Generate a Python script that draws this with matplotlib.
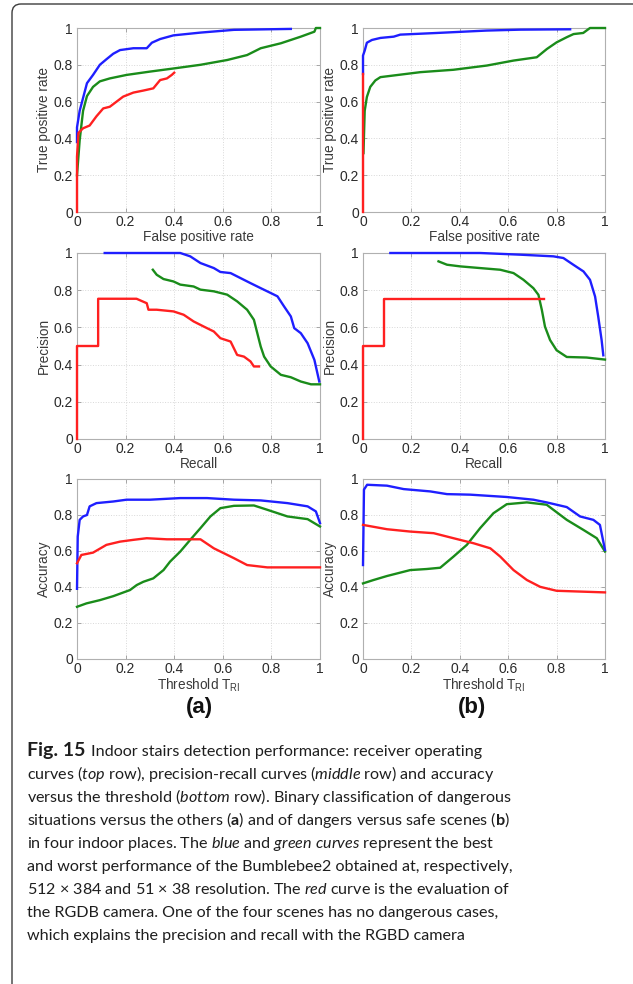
import matplotlib
matplotlib.use('Agg')
import matplotlib.pyplot as plt
from matplotlib.patches import FancyBboxPatch
from matplotlib.transforms import IdentityTransform

plt.rcParams['font.family'] = ['Liberation Sans', 'DejaVu Sans']
plt.rcParams['mathtext.fontset'] = 'custom'
plt.rcParams['mathtext.rm'] = 'Liberation Sans'
plt.rcParams['mathtext.it'] = 'Lato:italic'
plt.rcParams['mathtext.bf'] = 'Lato:bold'

# ---------------- data ----------------
# ROC (a)
roc_a_blue_x = [0, 0, 0.011, 0.025, 0.041, 0.066, 0.094, 0.121, 0.149, 0.177, 0.232, 0.287, 0.308, 0.342, 0.397, 0.508, 0.646, 0.88]
roc_a_blue_y = [0.38, 0.46, 0.55, 0.62, 0.70, 0.745, 0.80, 0.83, 0.86, 0.88, 0.89, 0.89, 0.92, 0.94, 0.96, 0.975, 0.99, 0.995]
roc_a_green_x = [0, 0.011, 0.025, 0.041, 0.066, 0.094, 0.135, 0.204, 0.30, 0.397, 0.508, 0.618, 0.70, 0.756, 0.839, 0.921, 0.977, 0.983, 1.0]
roc_a_green_y = [0.20, 0.39, 0.55, 0.63, 0.68, 0.71, 0.726, 0.745, 0.763, 0.78, 0.80, 0.826, 0.853, 0.89, 0.917, 0.953, 0.98, 1.0, 1.0]
roc_a_red_x = [0, 0, 0.006, 0.025, 0.052, 0.08, 0.108, 0.135, 0.163, 0.19, 0.232, 0.273, 0.314, 0.342, 0.37, 0.39, 0.40]
roc_a_red_y = [0, 0.30, 0.43, 0.455, 0.47, 0.52, 0.563, 0.572, 0.60, 0.627, 0.649, 0.66, 0.672, 0.717, 0.726, 0.745, 0.757]
# ROC (b)
roc_b_blue_x = [0, 0, 0.007, 0.016, 0.037, 0.072, 0.127, 0.154, 0.305, 0.51, 0.65, 0.856]
roc_b_blue_y = [0.75, 0.85, 0.877, 0.92, 0.935, 0.946, 0.953, 0.964, 0.973, 0.986, 0.991, 0.993]
roc_b_green_x = [0.002, 0.007, 0.016, 0.03, 0.051, 0.072, 0.127, 0.237, 0.374, 0.512, 0.622, 0.718, 0.76, 0.80, 0.842, 0.87, 0.91, 0.938, 1.0]
roc_b_green_y = [0.32, 0.55, 0.625, 0.68, 0.715, 0.733, 0.742, 0.76, 0.773, 0.796, 0.823, 0.841, 0.886, 0.922, 0.95, 0.967, 0.973, 1.0, 1.0]
roc_b_red_x = [0, 0]
roc_b_red_y = [0, 0.75]
# Precision-recall (a)
pr_a_blue_x = [0.114, 0.425, 0.466, 0.508, 0.563, 0.59, 0.632, 0.673, 0.714, 0.756, 0.797, 0.825, 0.852, 0.88, 0.894, 0.921, 0.949, 0.977, 0.997]
pr_a_blue_y = [1.0, 1.0, 0.982, 0.946, 0.919, 0.898, 0.892, 0.865, 0.838, 0.811, 0.785, 0.767, 0.713, 0.659, 0.596, 0.569, 0.515, 0.425, 0.309]
pr_a_green_x = [0.312, 0.328, 0.356, 0.397, 0.425, 0.48, 0.508, 0.563, 0.618, 0.659, 0.70, 0.728, 0.742, 0.756, 0.77, 0.797, 0.839, 0.88, 0.921, 0.963, 1.0]
pr_a_green_y = [0.91, 0.883, 0.86, 0.847, 0.83, 0.82, 0.803, 0.794, 0.776, 0.74, 0.695, 0.641, 0.569, 0.497, 0.443, 0.39, 0.345, 0.332, 0.309, 0.294, 0.294]
pr_a_red_x = [0, 0, 0.087, 0.087, 0.245, 0.287, 0.294, 0.328, 0.397, 0.439, 0.48, 0.521, 0.563, 0.59, 0.632, 0.659, 0.687, 0.714, 0.728, 0.749]
pr_a_red_y = [0, 0.5, 0.5, 0.754, 0.754, 0.73, 0.695, 0.695, 0.686, 0.668, 0.632, 0.605, 0.578, 0.542, 0.524, 0.452, 0.443, 0.417, 0.39, 0.39]
# Precision-recall (b)
pr_b_blue_x = [0.113, 0.484, 0.649, 0.787, 0.828, 0.869, 0.911, 0.938, 0.959, 0.972, 0.986, 0.993]
pr_b_blue_y = [1.0, 1.0, 0.991, 0.982, 0.973, 0.937, 0.901, 0.856, 0.766, 0.658, 0.532, 0.45]
pr_b_green_x = [0.312, 0.347, 0.402, 0.484, 0.567, 0.622, 0.663, 0.704, 0.725, 0.739, 0.752, 0.773, 0.80, 0.842, 0.924, 1.0]
pr_b_green_y = [0.955, 0.937, 0.928, 0.919, 0.91, 0.892, 0.856, 0.811, 0.775, 0.694, 0.604, 0.532, 0.477, 0.441, 0.438, 0.427]
pr_b_red_x = [0, 0, 0.088, 0.088, 0.748]
pr_b_red_y = [0, 0.5, 0.5, 0.751, 0.751]
# Accuracy vs threshold (a)
acc_a_blue_x = [0, 0.003, 0.011, 0.025, 0.041, 0.052, 0.08, 0.149, 0.204, 0.30, 0.425, 0.535, 0.646, 0.756, 0.866, 0.949, 0.983, 1.0]
acc_a_blue_y = [0.39, 0.68, 0.773, 0.792, 0.80, 0.848, 0.866, 0.875, 0.885, 0.885, 0.894, 0.894, 0.885, 0.881, 0.866, 0.848, 0.82, 0.755]
acc_a_green_x = [0, 0.039, 0.094, 0.149, 0.218, 0.246, 0.273, 0.314, 0.356, 0.383, 0.425, 0.466, 0.508, 0.549, 0.59, 0.646, 0.728, 0.783, 0.866, 0.949, 1.0]
acc_a_green_y = [0.29, 0.309, 0.327, 0.349, 0.383, 0.411, 0.429, 0.448, 0.494, 0.541, 0.597, 0.662, 0.727, 0.792, 0.838, 0.851, 0.853, 0.829, 0.792, 0.777, 0.736]
acc_a_red_x = [0, 0.018, 0.066, 0.121, 0.177, 0.232, 0.287, 0.37, 0.508, 0.563, 0.646, 0.70, 0.783, 1.0]
acc_a_red_y = [0.532, 0.578, 0.591, 0.634, 0.652, 0.662, 0.671, 0.665, 0.665, 0.615, 0.56, 0.522, 0.509, 0.509]
# Accuracy vs threshold (b)
acc_b_blue_x = [0, 0.004, 0.017, 0.099, 0.168, 0.278, 0.347, 0.443, 0.594, 0.704, 0.759, 0.842, 0.897, 0.952, 0.979, 1.0]
acc_b_blue_y = [0.522, 0.941, 0.968, 0.963, 0.944, 0.931, 0.916, 0.913, 0.90, 0.885, 0.87, 0.844, 0.792, 0.773, 0.745, 0.606]
acc_b_green_x = [0, 0.044, 0.099, 0.195, 0.264, 0.319, 0.374, 0.429, 0.484, 0.539, 0.594, 0.677, 0.759, 0.842, 0.911, 0.966, 1.0]
acc_b_green_y = [0.42, 0.439, 0.461, 0.494, 0.50, 0.507, 0.569, 0.634, 0.727, 0.81, 0.86, 0.87, 0.857, 0.773, 0.717, 0.671, 0.597]
acc_b_red_x = [0, 0.099, 0.195, 0.292, 0.374, 0.457, 0.526, 0.567, 0.622, 0.677, 0.732, 0.80, 1.0]
acc_b_red_y = [0.745, 0.721, 0.708, 0.699, 0.671, 0.643, 0.615, 0.569, 0.494, 0.439, 0.401, 0.379, 0.37]

tick_vals = [0, 0.2, 0.4, 0.6, 0.8, 1]
tick_labels = ['0', '0.2', '0.4', '0.6', '0.8', '1']

fig_tag = 'Fig. 15'
caption_lines = [
    'Indoor stairs detection performance: receiver operating',
    r'curves ($\mathit{top}$ row), precision-recall curves ($\mathit{middle}$ row) and accuracy',
    r'versus the threshold ($\mathit{bottom}$ row). Binary classification of dangerous',
    r'situations versus the others ($\mathbf{a}$) and of dangers versus safe scenes ($\mathbf{b}$)',
    r'in four indoor places. The $\mathit{blue}$ and $\mathit{green\ curves}$ represent the best',
    'and worst performance of the Bumblebee2 obtained at, respectively,',
    r'512 × 384 and 51 × 38 resolution. The $\mathit{red}$ curve is the evaluation of',
    'the RGDB camera. One of the four scenes has no dangerous cases,',
    'which explains the precision and recall with the RGBD camera',
]

#############################################################################
W, H = 633, 984
fig = plt.figure(figsize=(W / 100, H / 100), dpi=100)
fig.patch.set_facecolor('white')

# rounded frame round the whole figure
frame = FancyBboxPatch((12, -30), 640, H - 4 + 30, boxstyle='round,pad=0,rounding_size=9',
                       transform=IdentityTransform(), fc='none', ec='#3c3c3c', lw=1.0)
fig.add_artist(frame)

COLS = [(77, 320), (363, 605)]
ROWS = [(28, 212), (253, 439), (479, 659)]
BLUE, GREEN, RED = '#1f1fff', '#1a8c1a', '#ff2020'

panels = [
    [(roc_a_blue_x, roc_a_blue_y, roc_a_green_x, roc_a_green_y, roc_a_red_x, roc_a_red_y),
     (roc_b_blue_x, roc_b_blue_y, roc_b_green_x, roc_b_green_y, roc_b_red_x, roc_b_red_y)],
    [(pr_a_blue_x, pr_a_blue_y, pr_a_green_x, pr_a_green_y, pr_a_red_x, pr_a_red_y),
     (pr_b_blue_x, pr_b_blue_y, pr_b_green_x, pr_b_green_y, pr_b_red_x, pr_b_red_y)],
    [(acc_a_blue_x, acc_a_blue_y, acc_a_green_x, acc_a_green_y, acc_a_red_x, acc_a_red_y),
     (acc_b_blue_x, acc_b_blue_y, acc_b_green_x, acc_b_green_y, acc_b_red_x, acc_b_red_y)],
]
xlabels = ['False positive rate', 'Recall', r'Threshold T$_{\mathrm{RI}}$']
ylabels = ['True positive rate', 'Precision', 'Accuracy']

for r, (top, bot) in enumerate(ROWS):
    for c, (lft, rgt) in enumerate(COLS):
        ax = fig.add_axes([lft / W, 1 - bot / H, (rgt - lft) / W, (bot - top) / H])
        bx, by, gx, gy, rx, ry = panels[r][c]
        ax.plot(gx, gy, color=GREEN, lw=1.7, clip_on=False, zorder=3)
        ax.plot(bx, by, color=BLUE, lw=1.7, clip_on=False, zorder=3)
        ax.plot(rx, ry, color=RED, lw=1.7, clip_on=False, zorder=4)
        ax.set_xlim(0, 1); ax.set_ylim(0, 1)
        ax.set_xticks(tick_vals); ax.set_xticklabels(tick_labels)
        ax.set_yticks(tick_vals); ax.set_yticklabels(tick_labels)
        ax.grid(True, ls=':', color='#d8d8d8', lw=0.7)
        ax.tick_params(direction='in', length=3, width=0.6, color='#999999',
                       labelsize=10, labelcolor='#2a2a2a', top=True, right=True)
        ax.tick_params(axis='x', pad=2.5)
        ax.tick_params(axis='y', pad=3)
        for sp in ax.spines.values():
            sp.set_color('#b0b0b0'); sp.set_linewidth(0.8)
        ax.set_xlabel(xlabels[r], fontsize=9.8, color='#3a3a3a', labelpad=0.5)
        ax.set_ylabel(ylabels[r], fontsize=9.8, color='#3a3a3a', labelpad=2)

fig.text(199 / W, 1 - 707 / H, '(a)', fontsize=16, fontweight='bold', ha='center', va='center', color='#111111')
fig.text(472 / W, 1 - 707 / H, '(b)', fontsize=16, fontweight='bold', ha='center', va='center', color='#111111')

# caption: bold tag, then the wrapped lines
fig.text(27 / W, 1 - 756 / H, fig_tag, fontsize=14, family='Lato', fontweight='bold',
         color='#1e1e1e', ha='left', va='baseline')
for i, line in enumerate(caption_lines):
    x0 = 91 if i == 0 else 27
    fig.text(x0 / W, 1 - (756 + 23.0 * i) / H, line, fontsize=11.6, family='Lato',
             color='#1e1e1e', ha='left', va='baseline')

fig.savefig('out.png', dpi=100)
